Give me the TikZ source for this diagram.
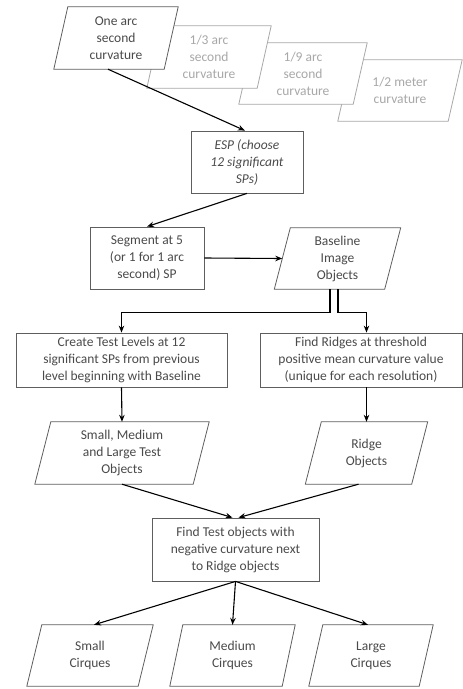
\documentclass[tikz,border=0pt]{standalone}
\usepackage{fontspec}
\setmainfont{Carlito}
\usetikzlibrary{arrows.meta,backgrounds,calc}
\definecolor{txt}{HTML}{4A4A4A}
\definecolor{ln}{HTML}{5E5E5E}
\definecolor{lt}{HTML}{A8A8A8}
\tikzset{
  lbl/.style={align=center, inner sep=0pt, text=txt, font=\fontsize{13.5}{17}\selectfont},
  faint/.style={lbl, text=lt},
  boxed/.style={lbl, draw=ln, line width=0.8pt},
  arr/.style={-{Stealth[length=7pt,width=5.5pt]}, line width=1.1pt, black},
  outl/.style={line width=0.8pt, fill=white},
}
\newcommand\pgm[3][ln]{\draw[outl, draw=#1] ([xshift=#3]#2.north west) -- ([xshift=#3]#2.north east) -- ([xshift=-#3]#2.south east) -- ([xshift=-#3]#2.south west) -- cycle;}
\begin{document}
\begin{tikzpicture}[x=1pt,y=-1pt]
\useasboundingbox (0,0) rectangle (463,689);
% top stack
\node[faint, minimum width=110, minimum height=61] (half) at (400,90.5) {1/2 meter\\curvature};
\node[faint, minimum width=114, minimum height=61] (ninth) at (303,73.5) {1/9 arc\\second\\curvature};
\node[faint, minimum width=110, minimum height=62] (third) at (209,57) {1/3 arc\\second\\curvature};
\node[lbl, minimum width=110, minimum height=62] (one) at (116,38) {One arc\\second\\curvature};
% rectangles
\node[boxed, minimum width=112, minimum height=62, font=\fontsize{13.5}{17}\selectfont\itshape] (esp) at (247,162) {ESP (choose\\12 significant\\SPs)};
\node[boxed, minimum width=114, minimum height=62] (seg) at (147,258) {Segment at 5\\(or 1 for 1 arc\\second) SP};
\node[lbl, minimum width=110, minimum height=61] (base) at (337.5,258.5) {Baseline\\Image\\Objects};
\node[boxed, minimum width=211, minimum height=54] (create) at (121.5,360) {Create Test Levels at 12\\significant SPs from previous\\level beginning with Baseline};
\node[boxed, minimum width=202, minimum height=54] (ridges) at (361,360) {Find Ridges at threshold\\positive mean curvature value\\(unique for each resolution)};
\node[lbl, minimum width=158, minimum height=62] (smt) at (122,453) {Small, Medium\\and Large Test\\Objects};
\node[lbl, minimum width=106, minimum height=62] (ridge) at (366.5,453) {Ridge\\Objects};
\node[boxed, minimum width=167, minimum height=63] (find) at (235.5,549.5) {Find Test objects with\\negative curvature next\\to Ridge objects};
\node[lbl, minimum width=111, minimum height=61] (small) at (90,655.5) {Small\\Cirques};
\node[lbl, minimum width=112, minimum height=61] (medium) at (232.5,655.5) {Medium\\Cirques};
\node[lbl, minimum width=110, minimum height=61] (large) at (371,655.5) {Large\\Cirques};
% parallelogram outlines
\begin{scope}[on background layer]
\pgm[lt]{half}{7}
\pgm[lt]{ninth}{7}
\pgm[lt]{third}{7}
\pgm{one}{7}
\pgm{base}{8}
\pgm{smt}{8}
\pgm{ridge}{8}
\pgm{small}{7.5}
\pgm{medium}{6.5}
\pgm{large}{7}
\end{scope}
% connectors
\draw[arr] ([xshift=-8]one.south) -- ([xshift=-2]esp.north);
\draw[arr] (esp.south) -- (seg.north);
\draw[arr] (seg.east) -- (base.west);
\draw[arr] ([xshift=-7.5]base.south) -- ++(0,23) -| (create.north);
\draw[arr] ([xshift=0.5]base.south) -- ++(0,23) -| (ridge.north |- ridges.north);
\draw[arr] (create.south) -- (smt.north);
\draw[arr] (ridge.north |- ridges.south) -- (ridge.north);
\draw[arr] (smt.south) -- ([xshift=-3]find.north);
\draw[arr] ([xshift=-8]ridge.south) -- ([xshift=3]find.north);
\draw[arr] (find.south) -- ([xshift=4]small.north);
\draw[arr] (find.south) -- (medium.north);
\draw[arr] (find.south) -- ([xshift=-3]large.north);
\end{tikzpicture}
\end{document}
